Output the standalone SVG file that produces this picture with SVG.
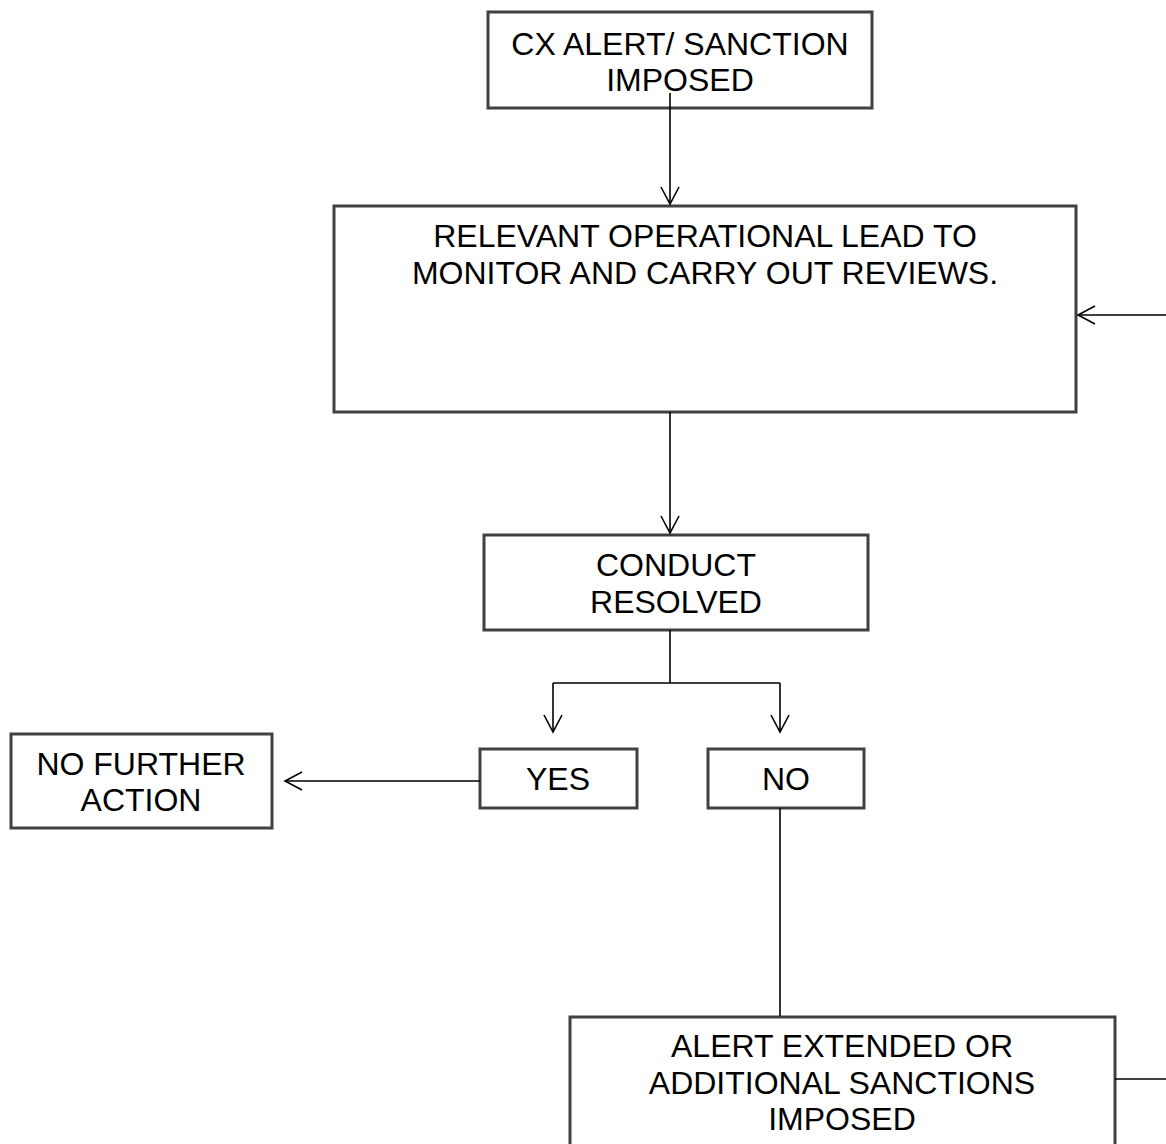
<svg xmlns="http://www.w3.org/2000/svg" width="1166" height="1144" viewBox="0 0 1166 1144">
<defs>
<style>
.box{fill:#ffffff;stroke:#404040;stroke-width:3}
.t{font-family:"Liberation Sans",Arial,sans-serif;font-size:32px;fill:#000000;text-anchor:middle}
.c{fill:none;stroke:#000000;stroke-width:1.6}
</style>
<marker id="ah" viewBox="0 0 20 20" refX="18" refY="10" markerWidth="20" markerHeight="20" markerUnits="userSpaceOnUse" orient="auto">
<path d="M1,1 L18,10 L1,19" fill="none" stroke="#000" stroke-width="1.6"/>
</marker>
</defs>
<rect width="1166" height="1144" fill="#ffffff"/>
<g id="n1">
<rect class="box" x="488" y="12" width="384" height="96"/>
<text class="t" x="680" y="55">CX ALERT/ SANCTION</text>
<text class="t" x="680" y="91">IMPOSED</text>
</g>
<g id="n2">
<rect class="box" x="334" y="206" width="742" height="206"/>
<text class="t" x="705" y="247">RELEVANT OPERATIONAL LEAD TO</text>
<text class="t" x="705" y="284">MONITOR AND CARRY OUT REVIEWS.</text>
</g>
<g id="n3">
<rect class="box" x="484" y="535" width="384" height="95"/>
<text class="t" x="676" y="576">CONDUCT</text>
<text class="t" x="676" y="613">RESOLVED</text>
</g>
<g id="n4">
<rect class="box" x="480" y="749" width="157" height="59"/>
<text class="t" x="558" y="790">YES</text>
</g>
<g id="n5">
<rect class="box" x="708" y="749" width="156" height="59"/>
<text class="t" x="786" y="790">NO</text>
</g>
<g id="n6">
<rect class="box" x="11" y="734" width="261" height="94"/>
<text class="t" x="141" y="775">NO FURTHER</text>
<text class="t" x="141" y="811">ACTION</text>
</g>
<g id="n7">
<rect class="box" x="570" y="1017" width="545" height="140"/>
<text class="t" x="842" y="1057">ALERT EXTENDED OR</text>
<text class="t" x="842" y="1094">ADDITIONAL SANCTIONS</text>
<text class="t" x="842" y="1130">IMPOSED</text>
</g>
<g id="connectors">
<line class="c" x1="670" y1="93" x2="670" y2="204" marker-end="url(#ah)"/>
<line class="c" x1="670" y1="412" x2="670" y2="533" marker-end="url(#ah)"/>
<line class="c" x1="1166" y1="315" x2="1078" y2="315" marker-end="url(#ah)"/>
<polyline class="c" points="670,630 670,683"/>
<polyline class="c" points="553,683 780,683"/>
<line class="c" x1="553" y1="683" x2="553" y2="732" marker-end="url(#ah)"/>
<line class="c" x1="780" y1="683" x2="780" y2="732" marker-end="url(#ah)"/>
<line class="c" x1="480" y1="781" x2="285" y2="781" marker-end="url(#ah)"/>
<line class="c" x1="780" y1="808" x2="780" y2="1016"/>
<line class="c" x1="1115" y1="1079" x2="1166" y2="1079"/>
</g>
</svg>
